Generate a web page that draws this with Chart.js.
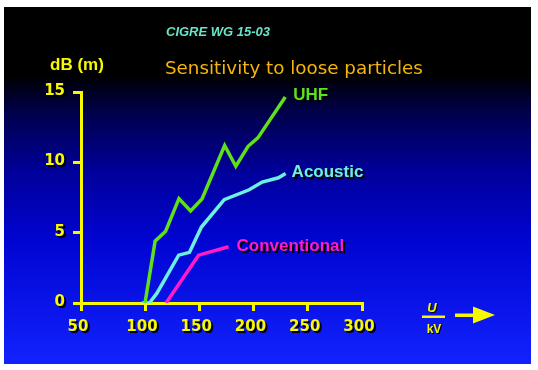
<!DOCTYPE html>
<html>
<head>
<meta charset="utf-8">
<script src="https://cdn.jsdelivr.net/npm/chart.js@4/dist/chart.umd.min.js"></script>
<style>
  body { margin: 0; background: #fff; }
  #wrap { width: 538px; height: 370px; }
</style>
</head>
<body>
<div id="wrap"><canvas id="sens" width="538" height="370"></canvas></div>
<script>
// ─── DATA ────────────────────────────────────────────────
const seriesNames = ['UHF', 'Acoustic', 'Conventional'];

const uhfU = [100, 109.3, 119, 131.3, 142, 152.5, 173.4, 183.7, 195, 204, 229.3];
const uhfDb = [0, 4.4, 5.1, 7.42, 6.55, 7.4, 11.2, 9.72, 11.14, 11.74, 14.65];

const acousticU = [97, 104, 111, 131, 141, 152, 173, 196, 208, 223, 229.6];
const acousticDb = [0, 0, 0.7, 3.4, 3.6, 5.4, 7.35, 8.05, 8.6, 8.9, 9.2];

const convU = [119.4, 149.4, 177];
const convDb = [0, 3.4, 4.0];

const xTickValues = [50, 100, 150, 200, 250, 300];
const xTickLabels = ['50', '100', '150', '200', '250', '300'];
const yTickValues = [0, 5, 10, 15];
const xAxisStart = 41;   // the original axis is squeezed left of 100

const YELLOW = '#f8f800';
const colors = ['#5ee01a', '#6ef0e0', '#ff1cc8'];

const toPoints = (xs, ys) => xs.map((x, i) => ({ x, y: ys[i] }));

// ─── BACKGROUND + TEXT ───────────────────────────────────
function shadowText(ctx, txt, x, y, color, off = 2) {
  ctx.fillStyle = '#000';
  ctx.fillText(txt, x + off, y + off);
  ctx.fillStyle = color;
  ctx.fillText(txt, x, y);
}

const slidePlugin = {
  id: 'slide',
  beforeDraw(chart) {
    const ctx = chart.ctx;
    ctx.save();
    ctx.fillStyle = '#fff';
    ctx.fillRect(0, 0, chart.width, chart.height);
    const g = ctx.createLinearGradient(0, 7, 0, 364);
    g.addColorStop(0, '#000000');
    g.addColorStop(0.19, '#000000');
    g.addColorStop(0.29, '#000048');
    g.addColorStop(0.46, '#00009a');
    g.addColorStop(0.65, '#0004d0');
    g.addColorStop(1, '#1222ff');
    ctx.fillStyle = g;
    ctx.fillRect(4, 7, 527, 357);
    ctx.restore();
  },
  afterDraw(chart) {
    const ctx = chart.ctx;
    const xs = chart.scales.x, ys = chart.scales.y;
    const area = chart.chartArea;
    ctx.save();
    ctx.textBaseline = 'middle';

    // tick labels
    ctx.font = 'bold 15px "DejaVu Sans", sans-serif';
    ctx.textAlign = 'center';
    xs.ticks.forEach((t, i) => {
      shadowText(ctx, xTickLabels[i], xs.getPixelForValue(t.value) - 3, area.bottom + 24, YELLOW);
    });
    ctx.textAlign = 'right';
    yTickValues.forEach(v => {
      shadowText(ctx, String(v), area.left - 16, ys.getPixelForValue(v) - 1, YELLOW);
    });

    // axis title
    ctx.textAlign = 'left';
    ctx.font = 'bold 17px "Liberation Sans", Arial, sans-serif';
    shadowText(ctx, 'dB (m)', 50, 65, YELLOW, 1);

    // headings
    ctx.font = 'italic bold 13px "Liberation Sans", Arial, sans-serif';
    ctx.fillStyle = '#66e6c8';
    ctx.fillText('CIGRE WG 15-03', 166, 32);

    let fs = 20;
    ctx.font = fs + 'px "DejaVu Sans", sans-serif';
    const w = ctx.measureText('Sensitivity to loose particles').width;
    fs = Math.min(21, fs * 258 / w);
    ctx.font = fs + 'px "DejaVu Sans", sans-serif';
    ctx.fillStyle = '#f5b50a';
    ctx.fillText('Sensitivity to loose particles', 165, 69);

    // series labels at line ends
    ctx.font = 'bold 17px "Liberation Sans", Arial, sans-serif';
    const offs = [[8, -2], [6, -1], [8, 0]];
    chart.data.datasets.forEach((ds, i) => {
      const last = ds.data[ds.data.length - 1];
      const px = xs.getPixelForValue(last.x), py = ys.getPixelForValue(last.y);
      shadowText(ctx, seriesNames[i], px + offs[i][0], py + offs[i][1], colors[i], 2);
    });

    // unit U / kV and arrow
    ctx.textAlign = 'center';
    ctx.font = 'italic bold 13px "Liberation Sans", Arial, sans-serif';
    shadowText(ctx, 'U', 432, 308, YELLOW, 1);
    ctx.fillStyle = YELLOW;
    ctx.fillRect(422, 315.5, 23, 2.5);
    ctx.font = 'bold 12px "Liberation Sans", Arial, sans-serif';
    shadowText(ctx, 'kV', 434, 330, YELLOW, 1);

    ctx.fillStyle = YELLOW;
    ctx.fillRect(455, 313.5, 20, 3.5);
    ctx.beginPath();
    ctx.moveTo(473, 306.5);
    ctx.lineTo(495, 315);
    ctx.lineTo(473, 323.5);
    ctx.closePath();
    ctx.fill();
    ctx.restore();
  }
};

// ─── CHART ───────────────────────────────────────────────
const seriesData = [toPoints(uhfU, uhfDb), toPoints(acousticU, acousticDb), toPoints(convU, convDb)];

new Chart(document.getElementById('sens').getContext('2d'), {
  type: 'scatter',
  data: {
    datasets: seriesNames.map((name, i) => ({
      label: name,
      data: seriesData[i],
      showLine: true,
      borderColor: colors[i],
      borderWidth: 3.5,
      pointRadius: 0,
      tension: 0,
      borderJoinStyle: 'miter',
    }))
  },
  options: {
    responsive: false,
    animation: false,
    layout: { padding: { left: 36, right: 176, top: 92, bottom: 27 } },
    plugins: { legend: { display: false }, tooltip: { enabled: false } },
    scales: {
      x: {
        type: 'linear',
        min: xAxisStart,
        max: 300,
        afterBuildTicks: s => {
          s.ticks = xTickValues.map((v, i) => ({ value: i === 0 ? xAxisStart : v }));
        },
        afterFit: s => { s.height = 40; },
        border: { color: YELLOW, width: 3 },
        grid: { drawOnChartArea: false, color: YELLOW, lineWidth: 3, tickLength: 8 },
        ticks: { color: 'rgba(0,0,0,0)', font: { size: 16 } }
      },
      y: {
        min: 0,
        max: 15,
        afterBuildTicks: s => { s.ticks = yTickValues.map(v => ({ value: v })); },
        afterFit: s => { s.width = 45; },
        border: { color: YELLOW, width: 3 },
        grid: { drawOnChartArea: false, color: YELLOW, lineWidth: 3, tickLength: 8 },
        ticks: { color: 'rgba(0,0,0,0)', font: { size: 16 } }
      }
    }
  },
  plugins: [slidePlugin]
});
</script>
</body>
</html>
